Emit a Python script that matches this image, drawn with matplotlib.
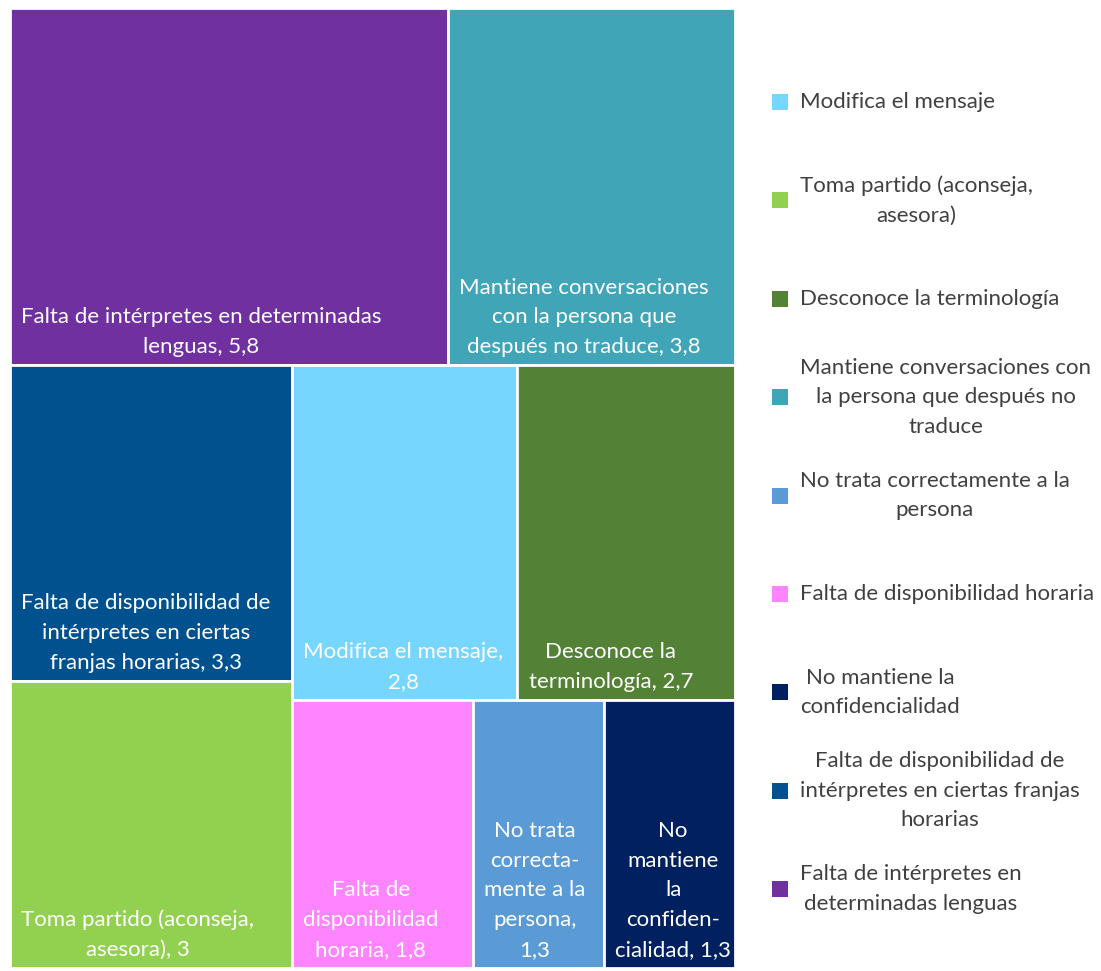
import matplotlib.pyplot as plt
from matplotlib.patches import Rectangle

plt.rcParams['font.family'] = ['Lato', 'DejaVu Sans']

# datos del treemap (orden de mayor a menor)
valores = [5.8, 3.8, 3.3, 3, 2.8, 2.7, 1.8, 1.3, 1.3]
etiquetas = [
    "Falta de intérpretes en determinadas\nlenguas, 5,8",
    "Mantiene conversaciones\ncon la persona que\ndespués no traduce, 3,8",
    "Falta de disponibilidad de\nintérpretes en ciertas\nfranjas horarias, 3,3",
    "Toma partido (aconseja,\nasesora), 3",
    "Modifica el mensaje,\n2,8",
    "Desconoce la\nterminología, 2,7",
    "Falta de\ndisponibilidad\nhoraria, 1,8",
    "No trata\ncorrecta-\nmente a la\npersona,\n1,3",
    "No\nmantiene\nla\nconfiden-\ncialidad, 1,3",
]
leyenda = [
    "Modifica el mensaje",
    "Toma partido (aconseja,\nasesora)",
    "Desconoce la terminología",
    "Mantiene conversaciones con\nla persona que después no\ntraduce",
    "No trata correctamente a la\npersona",
    "Falta de disponibilidad horaria",
    "No mantiene la\nconfidencialidad",
    "Falta de disponibilidad de\nintérpretes en ciertas franjas\nhorarias",
    "Falta de intérpretes en\ndeterminadas lenguas",
]
# indice del color de cada entrada de la leyenda
orden_leyenda = [4, 3, 5, 1, 7, 6, 8, 2, 0]
colores = ["#7030A0", "#41A5B8", "#01518F", "#92D050", "#77D6FD",
           "#538135", "#FF85FF", "#5B9BD5", "#002060"]

# grupos de la disposicion: fila arriba o columna a la izquierda
grupos = [("fila", [0, 1]), ("col", [2, 3]), ("fila", [4, 5]), ("fila", [6, 7, 8])]

W, H = 725.0, 960.0
escala = W * H / sum(valores)
rects = {}
x0, y0, w, h = 0.0, 0.0, W, H
for tipo, idx in grupos:
    s = sum(valores[i] for i in idx)
    if tipo == "fila":
        alto = s * escala / w
        xx = x0
        for i in idx:
            ancho = valores[i] / s * w
            rects[i] = (xx, y0, ancho, alto)
            xx += ancho
        y0 += alto
        h -= alto
    else:
        ancho = s * escala / h
        yy = y0
        for i in idx:
            alto = valores[i] / s * h
            rects[i] = (x0, yy, ancho, alto)
            yy += alto
        x0 += ancho
        w -= ancho

fig = plt.figure(figsize=(11.01, 9.71), dpi=100)
ax = fig.add_axes([10 / 1101, 3 / 971, 725 / 1101, 960 / 971])
ax.set_xlim(0, W)
ax.set_ylim(H, 0)
ax.axis('off')

for i, (x, y, a, b) in rects.items():
    ax.add_patch(Rectangle((x, y), a, b, facecolor=colores[i], edgecolor='white', linewidth=2))
    ax.annotate(etiquetas[i], xy=(x, y + b), xytext=(8, 6), textcoords='offset points',
                ha='left', va='bottom', multialignment='center', color='white',
                fontsize=16, linespacing=1.6)

# leyenda a mano
y_ley = 102
for k, i in enumerate(orden_leyenda):
    yc = y_ley + k * 98.4
    fig.patches.append(Rectangle((772 / 1101, 1 - (yc + 8) / 971), 16 / 1101, 16 / 971,
                                 facecolor=colores[i], edgecolor='none',
                                 transform=fig.transFigure))
    fig.text(800 / 1101, 1 - yc / 971, leyenda[k],
             ha='left', va='center', multialignment='center', color='#404040',
             fontsize=16, linespacing=1.6)

fig.savefig('out.png', dpi=100)
